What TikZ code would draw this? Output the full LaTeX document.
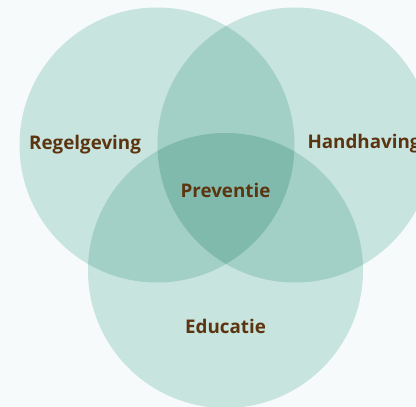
\documentclass[tikz,border=0pt]{standalone}
\usepackage{fontspec}
\setmainfont{Open Sans}
\definecolor{bgc}{HTML}{F6FAFB}
\definecolor{one}{HTML}{C7E4DF}
\definecolor{two}{HTML}{A2CFC6}
\definecolor{three}{HTML}{80BAAD}
\definecolor{txt}{HTML}{5C3510}
\tikzset{lbl/.style={text=txt,font=\fontsize{18.8}{22}\selectfont\bfseries,inner sep=0pt}}
\begin{document}
\begin{tikzpicture}[x=1pt,y=1pt]
\useasboundingbox (0,0) rectangle (416,407);
\fill[bgc] (0,0) rectangle (416,407);
\def\cL{(157,262) circle[radius=137.5]}
\def\cR{(295,262) circle[radius=137.5]}
\def\cB{(225.5,136.5) circle[radius=137.5]}
\begin{scope}
\clip (0,0) rectangle (416,407);
\fill[one] \cL;
\fill[one] \cR;
\fill[one] \cB;
\begin{scope}\clip \cL; \fill[two] \cR; \end{scope}
\begin{scope}\clip \cL; \fill[two] \cB; \end{scope}
\begin{scope}\clip \cR; \fill[two] \cB; \end{scope}
\begin{scope}\clip \cL; \clip \cR; \fill[three] \cB; \end{scope}
\end{scope}
\node[lbl,anchor=base west] (reg) at (29,257) {Regelgeving};
\node[lbl,anchor=base west] (hand) at (307.3,258) {Handhaving};
\node[lbl,anchor=base] (prev) at (225.5,209) {Preventie};
\node[lbl,anchor=base] (edu) at (225.5,73.7) {Educatie};
\end{tikzpicture}
\end{document}
